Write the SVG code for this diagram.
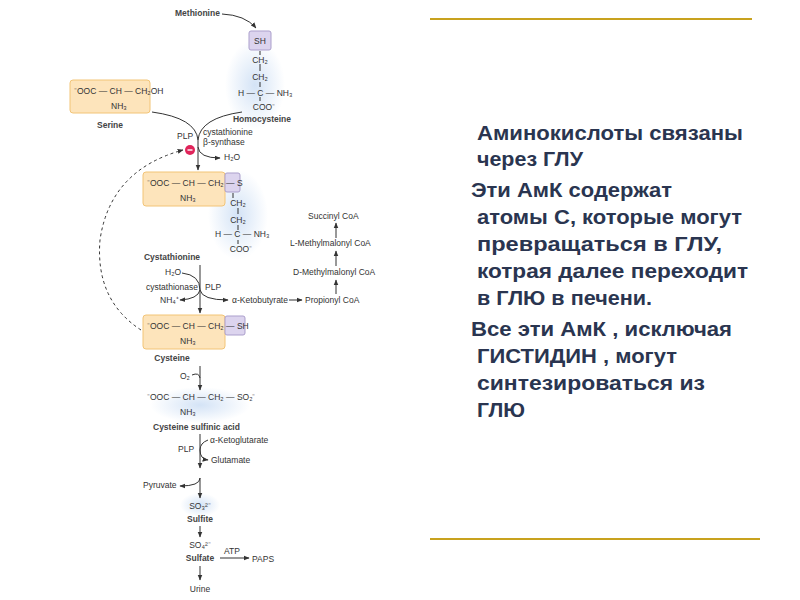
<svg xmlns="http://www.w3.org/2000/svg" width="800" height="600" viewBox="0 0 800 600">
<defs>
<marker id="ah" viewBox="0 0 10 10" refX="9" refY="5" markerWidth="6" markerHeight="6" orient="auto"><path d="M0,1 L10,5 L0,9 z" fill="#333"/></marker>
<radialGradient id="glow"><stop offset="0" stop-color="#cfe0f5" stop-opacity="0.9"/><stop offset="1" stop-color="#cfe0f5" stop-opacity="0"/></radialGradient>
<style>
.t{font-family:"Liberation Sans",Arial,sans-serif;font-size:8.5px;fill:#333}
.b{font-weight:bold;fill:#444}
.box{fill:#fde4bb;stroke:#f2c477;stroke-width:1}
.lav{fill:#dcd4ee;stroke:#ab9fcc;stroke-width:1}
.ln{fill:none;stroke:#333;stroke-width:1}
.r{font-family:"Liberation Sans",Arial,sans-serif;font-size:20.5px;font-weight:bold;fill:#2a3550}
.gold{stroke:#c8a21e;stroke-width:2}
</style>
</defs>
<ellipse cx="255" cy="85" rx="30" ry="45" fill="url(#glow)"/>
<ellipse cx="238" cy="215" rx="30" ry="45" fill="url(#glow)"/>
<ellipse cx="200" cy="405" rx="50" ry="18" fill="url(#glow)"/>
<ellipse cx="200" cy="505" rx="20" ry="12" fill="url(#glow)"/>

<g id="methionine"><text class="t b" x="175" y="16">Methionine</text></g>
<g id="homocysteine">
<rect class="lav" x="249" y="31" width="22" height="19" rx="2"/>
<text class="t" x="260" y="44" text-anchor="middle">SH</text>
<path class="ln" d="M260,51V55M260,64V71M260,82V87M260,97V101" stroke-width="0.7"/>
<text class="t" x="260" y="63" text-anchor="middle">CH₂</text>
<text class="t" x="260" y="80" text-anchor="middle">CH₂</text>
<text class="t" x="238" y="96">H — C — NH₃</text>
<text class="t" x="264" y="110" text-anchor="middle">COO⁻</text>
<text class="t b" x="262" y="122" text-anchor="middle">Homocysteine</text>
</g>
<g id="serine">
<rect class="box" x="70" y="80" width="80" height="33" rx="3"/>
<text class="t" x="74" y="94">⁻OOC — CH — CH₂OH</text>
<text class="t" x="111" y="109">NH₃</text>
<text class="t b" x="110" y="128" text-anchor="middle">Serine</text>
</g>
<g id="cbs">
<text class="t" x="177" y="139">PLP</text>
<circle cx="190" cy="150" r="5" fill="#e0245a"/>
<rect x="187.5" y="149.3" width="5" height="1.4" fill="#fff"/>
<text class="t" x="203" y="135" font-size="7">cystathionine</text>
<text class="t" x="203" y="145" font-size="7">β-synthase</text>
<text class="t" x="224" y="160">H₂O</text>
</g>
<g id="cystathionine">
<rect class="box" x="143" y="172" width="82" height="34" rx="3"/>
<rect class="lav" x="225" y="173" width="15" height="19" rx="2"/>
<text class="t" x="147" y="186">⁻OOC — CH — CH₂ — S</text>
<text class="t" x="180" y="201">NH₃</text>
<text class="t" x="238" y="206" text-anchor="middle">CH₂</text>
<text class="t" x="238" y="223" text-anchor="middle">CH₂</text>
<text class="t" x="215" y="237">H — C — NH₃</text>
<text class="t" x="241" y="252" text-anchor="middle">COO⁻</text>
<path class="ln" d="M233,193V198M238,208V214M238,225V230M238,240V244" stroke-width="0.7"/>
<text class="t b" x="172" y="260" text-anchor="middle">Cystathionine</text>
</g>
<g id="cystathionase">
<text class="t" x="165" y="275">H₂O</text>
<text class="t" x="146" y="290" font-size="7">cystathionase</text>
<text class="t" x="205" y="290">PLP</text>
<text class="t" x="160" y="303">NH₄⁺</text>
<text class="t" x="232" y="303">α-Ketobutyrate</text>
</g>
<g id="propionyl">
<text class="t" x="305" y="303">Propionyl CoA</text>
<text class="t" x="293" y="275">D-Methylmalonyl CoA</text>
<text class="t" x="290" y="246">L-Methylmalonyl CoA</text>
<text class="t" x="308" y="219">Succinyl CoA</text>
</g>
<g id="cysteine">
<rect class="box" x="143" y="315" width="82" height="34" rx="3"/>
<rect class="lav" x="225" y="316" width="20" height="19" rx="2"/>
<text class="t" x="147" y="329">⁻OOC — CH — CH₂ — SH</text>
<text class="t" x="180" y="344">NH₃</text>
<text class="t b" x="172" y="361" text-anchor="middle">Cysteine</text>
</g>
<g id="csa">
<text class="t" x="180" y="379">O₂</text>
<text class="t" x="147" y="400">⁻OOC — CH — CH₂ — SO₂⁻</text>
<text class="t" x="180" y="415">NH₃</text>
<text class="t b" x="153" y="430">Cysteine sulfinic acid</text>
<text class="t" x="178" y="452">PLP</text>
<text class="t" x="210" y="443">α-Ketoglutarate</text>
<text class="t" x="211" y="463">Glutamate</text>
<text class="t" x="143" y="488">Pyruvate</text>
</g>
<g id="sulfite"><text class="t" x="200" y="509" text-anchor="middle">SO₃²⁻</text><text class="t b" x="200" y="522" text-anchor="middle">Sulfite</text></g>
<g id="sulfate"><text class="t" x="200" y="548" text-anchor="middle">SO₄²⁻</text><text class="t b" x="200" y="561" text-anchor="middle">Sulfate</text>
<text class="t" x="224" y="554">ATP</text><text class="t" x="252" y="562">PAPS</text></g>
<g id="urine"><text class="t" x="200" y="592" text-anchor="middle">Urine</text></g>

<g id="connectors">
<path class="ln" d="M222,14 Q245,15 256,28" marker-end="url(#ah)"/>
<path class="ln" d="M152,112 Q196,118 198,140 V170" marker-end="url(#ah)"/>
<path class="ln" d="M242,112 Q200,118 198,140"/>
<path class="ln" d="M198,147 Q199,158 220,158" marker-end="url(#ah)"/>
<path class="ln" d="M141,330 Q95,300 100,240 Q110,170 183,150" stroke-dasharray="3,3" marker-end="url(#ah)"/>
<path class="ln" d="M200,265V313" marker-end="url(#ah)"/>
<path class="ln" d="M182,273 Q200,275 200,290"/>
<path class="ln" d="M200,290 Q198,299 180,300" marker-end="url(#ah)"/>
<path class="ln" d="M200,290 Q202,300 228,300" marker-end="url(#ah)"/>
<path class="ln" d="M289,300H302" marker-end="url(#ah)"/>
<path class="ln" d="M336,294V280" marker-end="url(#ah)"/>
<path class="ln" d="M336,266V251" marker-end="url(#ah)"/>
<path class="ln" d="M336,238V223" marker-end="url(#ah)"/>
<path class="ln" d="M200,366V390" marker-end="url(#ah)"/>
<path class="ln" d="M192,375 Q199,372 200,378"/>
<path class="ln" d="M200,434V468" marker-end="url(#ah)"/>
<path class="ln" d="M208,440 Q200,443 200,450 Q200,459 208,460" marker-end="url(#ah)"/>
<path class="ln" d="M200,478V498" marker-end="url(#ah)"/>
<path class="ln" d="M200,478 Q200,486 180,486" marker-end="url(#ah)"/>
<path class="ln" d="M200,526V537" marker-end="url(#ah)"/>
<path class="ln" d="M220,558H249" marker-end="url(#ah)"/>
<path class="ln" d="M200,566V580" marker-end="url(#ah)"/>
</g>

<g id="text-panel">
<line class="gold" x1="430" y1="19" x2="752" y2="19"/>
<line class="gold" x1="430" y1="539" x2="760" y2="539"/>
<text class="r" x="477" y="140" textLength="266" lengthAdjust="spacingAndGlyphs">Аминокислоты  связаны</text>
<text class="r" x="477" y="166" textLength="106" lengthAdjust="spacingAndGlyphs">через ГЛУ</text>
<text class="r" x="471" y="197" textLength="201" lengthAdjust="spacingAndGlyphs">Эти АмК содержат</text>
<text class="r" x="477" y="224" textLength="265" lengthAdjust="spacingAndGlyphs">атомы С, которые могут</text>
<text class="r" x="477" y="251" textLength="245" lengthAdjust="spacingAndGlyphs">превращаться в ГЛУ,</text>
<text class="r" x="477" y="278" textLength="271" lengthAdjust="spacingAndGlyphs">котрая  далее переходит</text>
<text class="r" x="477" y="305" textLength="175" lengthAdjust="spacingAndGlyphs">в ГЛЮ в печени.</text>
<text class="r" x="471" y="336" textLength="261" lengthAdjust="spacingAndGlyphs">Все эти АмК , исключая</text>
<text class="r" x="477" y="363" textLength="200" lengthAdjust="spacingAndGlyphs">ГИСТИДИН , могут</text>
<text class="r" x="477" y="390" textLength="228" lengthAdjust="spacingAndGlyphs">синтезироваться   из</text>
<text class="r" x="477" y="417" textLength="48" lengthAdjust="spacingAndGlyphs">ГЛЮ</text>
</g>
</svg>
